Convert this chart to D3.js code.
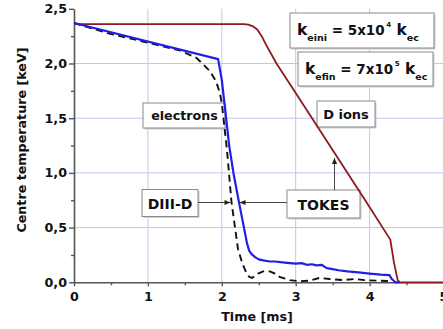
<!DOCTYPE html>
<html><head><meta charset="utf-8">
<script src="https://cdn.jsdelivr.net/npm/d3@7"></script>
<style>
html,body{margin:0;padding:0;background:#fff;overflow:hidden}
text{font-family:"DejaVu Sans",sans-serif;font-weight:bold;fill:#111}
</style>
</head><body>
<svg id="c" width="443" height="329"></svg>
<script>
// ---- data ----
const xTicks = [0, 1, 2, 3, 4, 5];
const xTickLabels = ["0", "1", "2", "3", "4", "5"];
const yTicks = [0, 0.5, 1.0, 1.5, 2.0, 2.5];
const yTickLabels = ["0,0", "0,5", "1,0", "1,5", "2,0", "2,5"];
const xMinor = [0.5, 1.5, 2.5, 3.5, 4.5];
const yMinor = [0.25, 0.75, 1.25, 1.75, 2.25];
const xGrid = [1, 2, 3, 4];
const yGrid = [0.5, 1.0, 1.5, 2.0];

// D ions (TOKES)
const ionsT = [0, 2.30, 2.36, 2.42, 2.48, 2.54, 2.60, 2.74, 3.0, 3.5, 3.94, 4.28, 4.33, 4.38, 4.41, 5.0];
const ionsV = [2.36, 2.36, 2.355, 2.34, 2.31, 2.25, 2.17, 2.0, 1.73, 1.21, 0.75, 0.39, 0.18, 0.02, 0, 0];

// electrons (TOKES)
const tokesT = [0, 1.95, 2.0, 2.05, 2.10, 2.16, 2.23, 2.30, 2.34, 2.37, 2.40, 2.45, 2.50, 2.56, 2.65, 2.72, 2.85, 3.0, 3.08, 3.15, 3.22, 3.28, 3.35, 3.42, 3.50, 3.58, 3.70, 3.85, 4.0, 4.15, 4.27, 4.30, 4.35, 4.40];
const tokesV = [2.37, 2.04, 1.85, 1.55, 1.25, 0.99, 0.74, 0.50, 0.36, 0.29, 0.26, 0.23, 0.21, 0.20, 0.19, 0.19, 0.18, 0.17, 0.175, 0.16, 0.165, 0.155, 0.16, 0.13, 0.12, 0.11, 0.10, 0.09, 0.08, 0.07, 0.065, 0.03, 0.0, 0.0];

// electrons (DIII-D experiment)
const diiidT = [0, 0.5, 1.0, 1.43, 1.66, 1.84, 1.92, 1.97, 2.0, 2.04, 2.07, 2.13, 2.22, 2.28, 2.33, 2.37, 2.41, 2.45, 2.49, 2.56, 2.65, 2.72, 2.78, 2.92, 3.05, 3.19, 3.32, 3.46, 3.64, 3.80, 3.93, 4.10, 4.30];
const diiidV = [2.37, 2.27, 2.19, 2.12, 2.05, 1.93, 1.84, 1.74, 1.64, 1.39, 1.21, 0.74, 0.30, 0.17, 0.09, 0.05, 0.04, 0.06, 0.08, 0.10, 0.10, 0.08, 0.05, 0.02, 0.01, 0.015, 0.04, 0.03, 0.02, 0.03, 0.02, 0.015, 0.01];

// ---- drawing ----
const svg = d3.select("#c");
const x = d3.scaleLinear().domain([0, 5]).range([74, 443.5]);
const y = d3.scaleLinear().domain([0, 2.5]).range([282.3, 8.8]);

const gridColor = "#c4c4f2";
svg.append("g").selectAll("line").data(xGrid).join("line")
  .attr("x1", d => x(d)).attr("x2", d => x(d)).attr("y1", y(0)).attr("y2", y(2.5))
  .attr("stroke", gridColor).attr("stroke-width", 1);
svg.append("g").selectAll("line").data(yGrid).join("line")
  .attr("x1", x(0)).attr("x2", x(5)).attr("y1", d => y(d)).attr("y2", d => y(d))
  .attr("stroke", gridColor).attr("stroke-width", 1);

// axes
const axisColor = "#555";
const fs = 12.7;
const gy = svg.append("g").attr("transform", `translate(${x(0)},0)`)
  .call(d3.axisLeft(y).tickValues(yTicks).tickFormat((d, i) => yTickLabels[i]).tickSize(5).tickSizeOuter(0).tickPadding(2));
const gyMinor = svg.append("g").attr("transform", `translate(${x(0)},0)`)
  .call(d3.axisLeft(y).tickValues(yMinor).tickFormat("").tickSize(3).tickSizeOuter(0));
const gx = svg.append("g").attr("transform", `translate(0,${y(0)})`)
  .call(d3.axisBottom(x).tickValues(xTicks).tickFormat((d, i) => xTickLabels[i]).tickSize(4).tickSizeOuter(0).tickPadding(5.5));
const gxMinor = svg.append("g").attr("transform", `translate(0,${y(0)})`)
  .call(d3.axisBottom(x).tickValues(xMinor).tickFormat("").tickSize(3).tickSizeOuter(0));
[gy, gyMinor, gx, gxMinor].forEach(g => {
  g.selectAll("path.domain").attr("stroke", axisColor).attr("stroke-width", 1.6);
  g.selectAll(".tick line").attr("stroke", axisColor).attr("stroke-width", 1.4);
  g.selectAll(".tick text").attr("font-family", "DejaVu Sans").attr("font-weight", "bold")
    .attr("font-size", fs).attr("fill", "#111");
});
gyMinor.select("path.domain").remove();
gxMinor.select("path.domain").remove();

// axis titles
svg.append("text").attr("x", 257).attr("y", 321).attr("text-anchor", "middle")
  .attr("font-size", fs).text("Time [ms]");
svg.append("text").attr("transform", "translate(25.5,140) rotate(-90)").attr("text-anchor", "middle")
  .attr("font-size", fs).text("Centre temperature [keV]");

// annotation boxes
function box(x0, y0, x1, y1) {
  svg.append("rect").attr("x", x0 + 1.5).attr("y", y0 + 1.5).attr("width", x1 - x0).attr("height", y1 - y0)
    .attr("fill", "#cfcfcf");
  svg.append("rect").attr("x", x0).attr("y", y0).attr("width", x1 - x0).attr("height", y1 - y0)
    .attr("fill", "#fff").attr("stroke", "#8a8a8a").attr("stroke-width", 1);
}
function label(cx, by, txt, size) {
  svg.append("text").attr("x", cx).attr("y", by).attr("text-anchor", "middle")
    .attr("font-size", size).text(txt);
}
box(143, 103, 225, 128); label(184.5, 120, "electrons", 12.7);
box(317, 101, 375, 127); label(346, 119, "D ions", 13);
box(142, 189.5, 198, 216.5); label(170, 209, "DIII-D", 14);
box(287, 190, 360, 218); label(323.5, 210, "TOKES", 14);

// k boxes
box(290, 13, 434, 48);
box(298, 52, 433, 86);
function kText(x0, by, sub, num, sup) {
  const t = svg.append("text").attr("x", x0).attr("y", by);
  t.append("tspan").attr("font-size", 15.5).text("k");
  t.append("tspan").attr("font-size", 9.5).attr("dy", 5.5).text(sub);
  t.append("tspan").attr("font-size", 13.5).attr("dy", -5.5).text(" = " + num);
  t.append("tspan").attr("font-size", 7).attr("dy", -8).attr("dx", 1.5).text(sup);
  t.append("tspan").attr("font-size", 15.5).attr("dy", 8).attr("dx", 0).text(" k");
  t.append("tspan").attr("font-size", 9.5).attr("dy", 5.5).text("ec");
}
kText(297, 35, "eini", "5x10", "4");
kText(305, 74, "efin", "7x10", "5");

// curves
const line = d3.line();
function pts(T, V) { return T.map((t, i) => [x(t), y(V[i])]); }
svg.append("path").attr("d", line(pts(diiidT, diiidV))).attr("fill", "none")
  .attr("stroke", "#111").attr("stroke-width", 1.9).attr("stroke-dasharray", "7,4.5");
svg.append("path").attr("d", line(pts(ionsT, ionsV))).attr("fill", "none")
  .attr("stroke", "#8e1a1f").attr("stroke-width", 1.8).attr("stroke-linejoin", "round");
svg.append("path").attr("d", line(pts(tokesT, tokesV))).attr("fill", "none")
  .attr("stroke", "#1f1fe6").attr("stroke-width", 2.2).attr("stroke-linejoin", "round");

// arrows
function arrow(x0, y0, x1, y1) {
  svg.append("line").attr("x1", x0).attr("y1", y0).attr("x2", x1).attr("y2", y1)
    .attr("stroke", "#444").attr("stroke-width", 1);
  const a = Math.atan2(y1 - y0, x1 - x0), L = 6, W = 2.6;
  const bx = x1 - L * Math.cos(a), by = y1 - L * Math.sin(a);
  const px = -Math.sin(a) * W, py = Math.cos(a) * W;
  svg.append("path").attr("d", `M${x1},${y1}L${bx + px},${by + py}L${bx - px},${by - py}Z`).attr("fill", "#222");
}
arrow(198, 202.5, 230.5, 202.5);
arrow(287, 202.5, 239.5, 202.5);
arrow(334.5, 190, 334.5, 158);
</script>
</body></html>
